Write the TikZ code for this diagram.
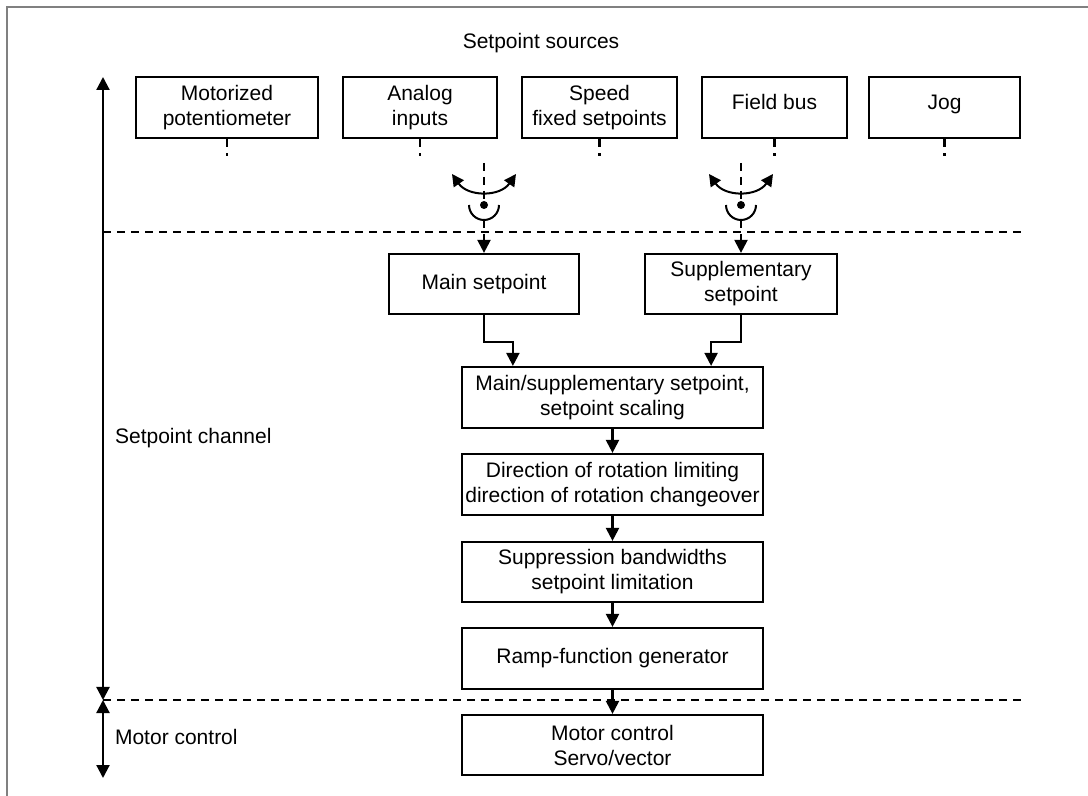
\documentclass[tikz,border=0pt]{standalone}
\usepackage{fontspec}
\setmainfont{Liberation Sans}
\usetikzlibrary{arrows.meta,calc}
\begin{document}
\begin{tikzpicture}[x=0.5pt,y=-0.5pt,
  txt/.style={font=\fontsize{10.5}{12.5}\selectfont},
  box/.style={draw, line width=1.1pt, align=center, inner sep=1pt, txt},
  tip/.style={-{Triangle[length=6.5pt,width=6.5pt]}},
  arr/.style={line width=1.1pt, tip},
  dsh/.style={line width=1.2pt, dash pattern=on 4pt off 3pt},
  swarc/.style={line width=1pt, {Triangle[length=6pt,width=6pt]}-{Triangle[length=6pt,width=6pt]}},
  one/.style={text height=7.5pt, text depth=5pt},
  dot/.style={circle, fill, inner sep=0pt, minimum size=4pt}]
\useasboundingbox (0,0) rectangle (1088,796);
% frame
\coordinate (fbl) at (7,796);
\coordinate (ftl) at (7,7);
\coordinate (ftr) at (1088,7);
\draw[gray, line width=0.8pt] (fbl) -- (ftl) -- (ftr);

\node[txt] (title) at (541,43) {Setpoint sources};

% source boxes
\node[box, minimum width=91pt, minimum height=30.5pt] (s1) at (227,107.5) {Motorized\\potentiometer};
\node[box, minimum width=77pt, minimum height=30.5pt] (s2) at (420,107.5) {Analog\\inputs};
\node[box, minimum width=77.5pt, minimum height=30.5pt] (s3) at (599.5,107.5) {Speed\\fixed setpoints};
\node[box, one, minimum width=72.5pt, minimum height=30.5pt] (s4) at (774.5,107.5) {Field bus};
\node[box, one, minimum width=75.5pt, minimum height=30.5pt] (s5) at (944.5,107.5) {Jog};
\foreach \n in {s1,s2,s3,s4,s5} {
  \coordinate (\n e) at ($(\n.south)+(0,17)$);
  \draw[dsh] (\n.south) -- (\n e);
}

% main & supplementary setpoint
\node[box, minimum width=95pt, minimum height=30pt] (main) at (484,284) {Main setpoint};
\node[box, minimum width=96pt, minimum height=30pt] (supp) at (741,284) {Supplementary\\setpoint};

% switch 1
\coordinate (t1) at (484,163);
\node[dot] (d1) at (484,205) {};
\coordinate (c1) at (484,220);
\coordinate (l1) at (452,174);
\coordinate (r1) at (516,174);
\draw[dsh] (t1) -- (d1.center);
\draw[swarc] (l1) .. controls (468,197) and (500,197) .. (r1);
\draw[line width=1pt] (469,205) arc[start angle=180, end angle=0, radius=15];
\draw[dsh, arr] (c1) -- (main.north);

% switch 2
\coordinate (t2) at (741,163);
\node[dot] (d2) at (741,205) {};
\coordinate (c2) at (741,220);
\coordinate (l2) at (709,174);
\coordinate (r2) at (773,174);
\draw[dsh] (t2) -- (d2.center);
\draw[swarc] (l2) .. controls (725,197) and (757,197) .. (r2);
\draw[line width=1pt] (726,205) arc[start angle=180, end angle=0, radius=15];
\draw[dsh, arr] (c2) -- (supp.north);

% column
\node[box, minimum width=150.5pt, minimum height=30.5pt] (ms) at (612.5,397.5) {Main/supplementary setpoint,\\setpoint scaling};
\node[box, minimum width=150.5pt, minimum height=30.5pt] (dir) at (612.5,484.5) {Direction of rotation limiting\\direction of rotation changeover};
\node[box, minimum width=150.5pt, minimum height=30pt] (sb) at (612.5,572) {Suppression bandwidths\\setpoint limitation};
\node[box, minimum width=150.5pt, minimum height=30.5pt] (rfg) at (612.5,658.5) {Ramp-function generator};
\node[box, minimum width=150.5pt, minimum height=30pt] (mot) at (612.5,745) {Motor control\\Servo/vector};

\coordinate (msl) at ($(ms.north west)+(52,0)$);
\coordinate (msr) at ($(ms.north east)+(-53,0)$);
\draw[arr] (main.south) -- ++(0,27) -| (msl);
\draw[arr] (supp.south) -- ++(0,27) -| (msr);
\draw[arr] (ms.south) -- (dir.north);
\draw[arr] (dir.south) -- (sb.north);
\draw[arr] (sb.south) -- (rfg.north);
\draw[arr] (rfg.south) -- (mot.north);

% separators
\coordinate (h1l) at (103,232);
\coordinate (h1r) at (1026,232);
\coordinate (h2l) at (103,700);
\coordinate (h2r) at (1026,700);
\draw[dsh] (h1l) -- (h1r);
\draw[dsh] (h2l) -- (h2r);

% left range arrows
\coordinate (a0) at (103,77);
\coordinate (a1) at (103,700);
\coordinate (a2) at (103,778);
\draw[line width=1.1pt, {Triangle[length=6.5pt,width=6.5pt]}-{Triangle[length=6.5pt,width=6.5pt]}] (a0) -- (a1);
\draw[line width=1.1pt, {Triangle[length=6.5pt,width=6.5pt]}-{Triangle[length=6.5pt,width=6.5pt]}] (a1) -- (a2);

\node[txt, anchor=west] (sc) at (108,438) {Setpoint channel};
\node[txt, anchor=west] (mc) at (108,737) {Motor control};
\end{tikzpicture}
\end{document}
